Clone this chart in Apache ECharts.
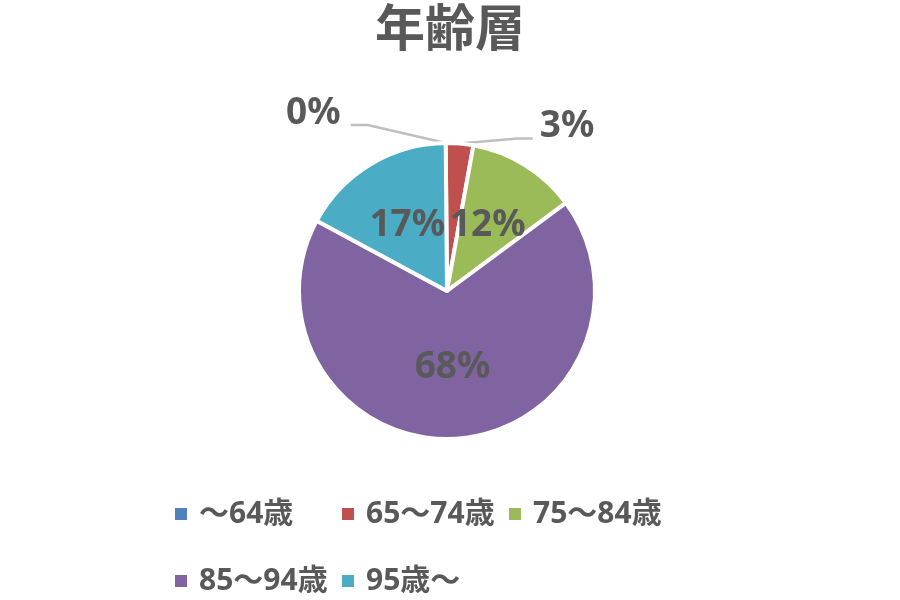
<!DOCTYPE html>
<html>
<head>
<meta charset="utf-8">
<script src="https://cdn.jsdelivr.net/npm/echarts@6/dist/echarts.min.js"></script>
<style>
  html, body { margin: 0; padding: 0; background: #fff; }
  #main { width: 900px; height: 600px; }
</style>
</head>
<body>
<div id="main"></div>
<script>
// 年齢層の内訳
var ageGroups = ['～64歳', '65～74歳', '75～84歳', '85～94歳', '95歳～'];
var shares = [0, 3, 12, 68, 17];
var sliceColors = ['#4F81BD', '#C0504D', '#9BBB59', '#8064A2', '#4BACC6'];
var outsideLabels = [0, 1]; // 小さい扇形はラベルを外に出す

var textGray = '#595959';
var fontFam = '"Noto Sans", "Noto Sans CJK JP", sans-serif';

var myChart = echarts.init(document.getElementById('main'));

// 凡例は3列のグリッド (Excel風に列をそろえる)
var legends = ageGroups.map(function (name, i) {
  return {
    left: 173 + (i % 3) * 167,
    top: 499 + Math.floor(i / 3) * 67,
    padding: 0,
    icon: 'rect',
    itemWidth: 14,
    itemHeight: 14,
    itemGap: 0,
    data: [name],
    textStyle: {
      color: textGray,
      fontSize: 30,
      fontWeight: 'bold',
      fontFamily: fontFam,
      padding: [0, 0, 0, 6]
    }
  };
});

var option = {
  backgroundColor: '#fff',
  color: sliceColors,
  title: {
    text: '年齢層',
    left: 'center',
    top: -3,
    textStyle: {
      color: textGray,
      fontSize: 50,
      fontWeight: 'bold',
      fontFamily: '"Noto Sans CJK JP", sans-serif'
    }
  },
  legend: legends,
  series: [{
    name: '年齢層',
    type: 'pie',
    center: [447, 291],
    radius: 148,
    startAngle: 90.5,
    clockwise: true,
    percentPrecision: 0,
    itemStyle: {
      borderColor: '#fff',
      borderWidth: 4
    },
    label: {
      show: true,
      position: 'inside',
      formatter: '{d}%',
      color: textGray,
      fontSize: 37,
      fontWeight: 'bold',
      fontFamily: fontFam
    },
    labelLine: {
      show: true,
      length: 14,
      length2: 70,
      lineStyle: { color: '#BFBFBF', width: 2.5 }
    },
    labelLayout: function (params) {
      var pts = params.labelLinePoints;
      var p0 = pts && pts[0];
      if (params.dataIndex === 0) {
        var out = { dx: -30, dy: -16 };
        if (p0) {
          var a = [p0[0] - 78, p0[1] - 18];
          out.labelLinePoints = [p0, a, [a[0] - 17, a[1]]];
        }
        return out;
      }
      if (params.dataIndex === 1) {
        var out1 = { dx: 4, dy: -3 };
        if (p0) {
          var b = [p0[0] + 58, p0[1] - 5];
          out1.labelLinePoints = [p0, b, [b[0] + 15, b[1]]];
        }
        return out1;
      }
    },
    emphasis: { disabled: true },
    data: ageGroups.map(function (name, i) {
      var item = { name: name, value: shares[i] };
      if (outsideLabels.indexOf(i) >= 0) {
        item.label = { position: 'outside' };
      }
      return item;
    })
  }]
};

myChart.setOption(option);
</script>
</body>
</html>
